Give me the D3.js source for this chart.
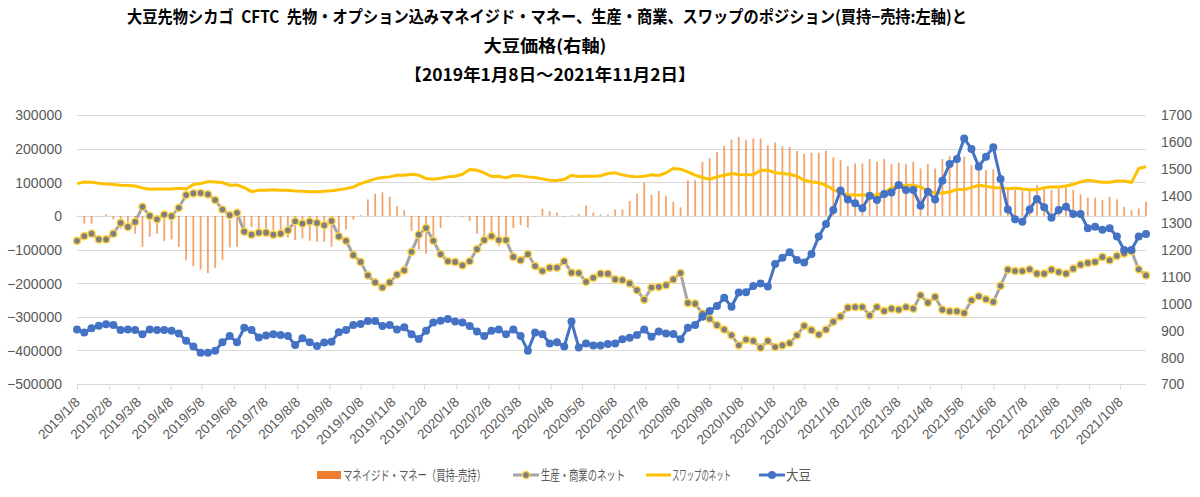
<!DOCTYPE html>
<html><head><meta charset="utf-8">
<script src="https://cdn.jsdelivr.net/npm/d3@7"></script>
<style>body{margin:0;background:#fff}svg{display:block}</style>
</head><body>
<svg id="c" width="1200" height="497"></svg>
<script>
const startDate = "2019-01-08";
const endDate = "2021-11-02";
const titleLines = [
  "大豆先物シカゴ\u2002CFTC\u2002先物・オプション込みマネイジド・マネー、生産・商業、スワップのポジション(買持−売持:左軸)と",
  "大豆価格(右軸)",
  "【2019年1月8日～2021年11月2日】"
];
const seriesNames = ["マネイジド・マネー（買持-売持）", "生産・商業のネット", "スワップのネット", "大豆"];
const leftTicks = [300000, 200000, 100000, 0, -100000, -200000, -300000, -400000, -500000];
const rightTicks = [1700, 1600, 1500, 1400, 1300, 1200, 1100, 1000, 900, 800, 700];
const tickLabels = ["2019/1/8","2019/2/8","2019/3/8","2019/4/8","2019/5/8","2019/6/8","2019/7/8","2019/8/8","2019/9/8","2019/10/8","2019/11/8","2019/12/8",
 "2020/1/8","2020/2/8","2020/3/8","2020/4/8","2020/5/8","2020/6/8","2020/7/8","2020/8/8","2020/9/8","2020/10/8","2020/11/8","2020/12/8",
 "2021/1/8","2021/2/8","2021/3/8","2021/4/8","2021/5/8","2021/6/8","2021/7/8","2021/8/8","2021/9/8","2021/10/8"];

const mmNet = [ -1000, -23000, -23000, -2000, 5000, -10000, -38000, -33000, -53000, -92000,
 -62000, -53000, -75000, -70000, -92000, -132000, -150000, -160000, -170000, -155000,
 -132000, -94000, -92000, -36000, -33000, -45000, -41000, -43000, -62000, -64000,
 -72000, -67000, -74000, -77000, -77000, -92000, -72000, -41000, -11000, 3000,
 49000, 66000, 70000, 57000, 29000, 17000, -45000, -100000, -112000, -67000,
 -36000, -3000, -1000, -3000, -15000, -53000, -67000, -72000, -90000, -72000,
 -36000, -28000, -35000, -2000, 21000, 14000, 10000, -2000, 2000, 5000,
 31000, 10000, 4000, 4000, 19000, 19000, 44000, 66000, 98000, 63000,
 74000, 60000, 42000, 25000, 106000, 106000, 161000, 171000, 190000, 208000,
 227000, 235000, 225000, 230000, 230000, 210000, 218000, 207000, 205000, 193000,
 184000, 188000, 188000, 194000, 174000, 166000, 148000, 156000, 156000, 169000,
 161000, 169000, 154000, 158000, 154000, 161000, 141000, 154000, 141000, 169000,
 177000, 158000, 176000, 151000, 161000, 136000, 139000, 97000, 82000, 77000,
 75000, 77000, 92000, 87000, 77000, 82000, 87000, 77000, 64000, 54000,
 54000, 47000, 57000, 49000, 27000, 17000, 22000, 42000 ];

const prodNet = [ -74000, -60000, -53000, -70000, -70000, -53000, -21000, -33000, -18000, 27000,
 0, -10000, 4000, -1000, 24000, 62000, 67000, 68000, 64000, 47000,
 19000, 2000, 9000, -47000, -56000, -50000, -50000, -56000, -53000, -43000,
 -16000, -23000, -17000, -21000, -28000, -15000, -61000, -74000, -117000, -137000,
 -177000, -198000, -213000, -198000, -175000, -162000, -107000, -56000, -36000, -74000,
 -114000, -135000, -137000, -147000, -135000, -99000, -72000, -60000, -72000, -72000,
 -122000, -132000, -114000, -149000, -164000, -154000, -154000, -135000, -169000, -170000,
 -196000, -184000, -172000, -172000, -189000, -191000, -201000, -221000, -249000, -213000,
 -211000, -206000, -189000, -170000, -259000, -261000, -291000, -306000, -325000, -338000,
 -355000, -385000, -368000, -372000, -392000, -372000, -390000, -385000, -378000, -355000,
 -327000, -340000, -353000, -338000, -315000, -299000, -273000, -271000, -271000, -296000,
 -271000, -283000, -276000, -279000, -271000, -276000, -236000, -258000, -241000, -279000,
 -284000, -284000, -289000, -251000, -239000, -248000, -256000, -208000, -160000, -164000,
 -164000, -159000, -172000, -172000, -160000, -167000, -172000, -157000, -145000, -140000,
 -137000, -122000, -132000, -119000, -112000, -105000, -159000, -177000 ];

const swapNet = [ 96000, 101000, 100000, 97000, 95000, 93000, 91000, 90000, 89000, 83000,
 79000, 80000, 80000, 80000, 82000, 80000, 93000, 96000, 102000, 101000,
 99000, 91000, 92000, 84000, 72000, 76000, 76000, 78000, 76000, 76000,
 74000, 73000, 72000, 72000, 73000, 75000, 78000, 81000, 86000, 96000,
 103000, 110000, 114000, 116000, 121000, 121000, 124000, 121000, 111000, 109000,
 112000, 116000, 118000, 124000, 138000, 136000, 128000, 117000, 118000, 113000,
 120000, 119000, 116000, 114000, 110000, 106000, 105000, 108000, 121000, 117000,
 118000, 118000, 119000, 126000, 128000, 122000, 118000, 116000, 118000, 122000,
 120000, 128000, 141000, 139000, 131000, 121000, 114000, 109000, 116000, 121000,
 126000, 123000, 122000, 122000, 136000, 136000, 128000, 126000, 124000, 118000,
 106000, 101000, 99000, 91000, 78000, 68000, 63000, 62000, 62000, 62000,
 63000, 68000, 84000, 89000, 91000, 91000, 86000, 74000, 68000, 68000,
 71000, 79000, 78000, 84000, 91000, 88000, 84000, 84000, 81000, 83000,
 80000, 78000, 78000, 84000, 86000, 86000, 89000, 94000, 101000, 106000,
 103000, 100000, 100000, 104000, 104000, 99000, 141000, 146000 ];

const soybean = [ 903, 891, 907, 917, 922, 919, 901, 903, 901, 885,
 903, 901, 901, 898, 888, 861, 839, 816, 816, 824,
 855, 878, 855, 909, 901, 873, 880, 885, 882, 878,
 845, 870, 855, 841, 854, 857, 892, 901, 919, 923,
 934, 934, 916, 919, 903, 911, 885, 867, 898, 929,
 935, 942, 932, 929, 916, 895, 878, 898, 903, 885,
 903, 878, 824, 891, 885, 851, 855, 839, 932, 836,
 851, 843, 843, 849, 851, 866, 872, 882, 903, 876,
 895, 888, 886, 866, 909, 919, 950, 971, 990, 1021,
 987, 1040, 1041, 1064, 1074, 1062, 1146, 1169, 1190, 1161,
 1152, 1183, 1248, 1295, 1347, 1419, 1386, 1372, 1353, 1400,
 1384, 1406, 1412, 1440, 1421, 1421, 1363, 1415, 1386, 1456,
 1518, 1536, 1613, 1574, 1508, 1545, 1580, 1462, 1349, 1312,
 1303, 1349, 1388, 1357, 1318, 1347, 1359, 1332, 1332, 1279,
 1285, 1273, 1279, 1248, 1198, 1198, 1248, 1258 ];

const parse = d3.timeParse("%Y-%m-%d");
const parseTick = d3.timeParse("%Y/%m/%d");
const t0 = parse(startDate);
const dates = mmNet.map((_, i) => d3.timeDay.offset(t0, 7 * i));

const svg = d3.select("#c");
const L = 77, R = 1146, T = 115, B = 384;
const x = d3.scaleTime().domain([parse(startDate), parse(endDate)]).range([L, R]);
const yL = d3.scaleLinear().domain([-500000, 300000]).range([B, T]);
const yR = d3.scaleLinear().domain([700, 1700]).range([B, T]);
const FONT = "'Liberation Sans', Arial, sans-serif";
const JFONT = "'Noto Sans CJK JP', sans-serif";

// title
const titleY = [23, 52, 81], titleX = [547, 545, 550], titleW = [840, 123, 291];
titleLines.forEach((t, i) => {
  svg.append("text").attr("x", titleX[i]).attr("y", titleY[i])
    .attr("text-anchor", "middle").attr("font-family", JFONT).attr("font-weight", "bold")
    .attr("font-size", 16.5).attr("fill", "#000")
    .attr("textLength", titleW[i]).attr("lengthAdjust", "spacingAndGlyphs").text(t);
});

// gridlines
svg.append("g").selectAll("line").data(leftTicks).join("line")
  .attr("x1", L).attr("x2", R).attr("y1", d => Math.round(yL(d)) + 0.5).attr("y2", d => Math.round(yL(d)) + 0.5)
  .attr("stroke", "#D9D9D9").attr("stroke-width", 1);

// left axis
const axL = svg.append("g").attr("transform", `translate(${L - 12},0)`)
  .call(d3.axisLeft(yL).tickValues(leftTicks).tickSize(0).tickFormat(d3.format("d")));
axL.select(".domain").remove();
axL.selectAll("text").attr("font-family", FONT).attr("font-size", 14).attr("fill", "#595959").attr("dy", "0.35em");

// right axis
const axR = svg.append("g").attr("transform", `translate(${R + 12},0)`)
  .call(d3.axisRight(yR).tickValues(rightTicks).tickSize(0).tickFormat(d3.format("d")));
axR.select(".domain").remove();
axR.selectAll("text").attr("font-family", FONT).attr("font-size", 14).attr("fill", "#595959").attr("dy", "0.35em");

// bottom axis
const tickDates = tickLabels.map(parseTick);
const axB = svg.append("g").attr("transform", `translate(0,${Math.round(B) + 0.5})`)
  .call(d3.axisBottom(x).tickValues(tickDates).tickSize(5).tickFormat((d, i) => tickLabels[i]));
axB.select(".domain").remove();
axB.selectAll(".tick line").attr("stroke", "#D9D9D9");
axB.selectAll(".tick text")
  .attr("font-family", FONT).attr("font-size", 13.5).attr("fill", "#595959")
  .attr("text-anchor", "end").attr("x", 0).attr("y", 0).attr("dy", "0.35em")
  .attr("transform", "translate(0,15) rotate(-45)");

// bars
const bw = 1.8;
svg.append("g").selectAll("rect").data(mmNet).join("rect")
  .attr("x", (d, i) => x(dates[i]) - bw / 2)
  .attr("y", d => Math.min(yL(d), yL(0)))
  .attr("width", bw)
  .attr("height", d => Math.abs(yL(d) - yL(0)))
  .attr("fill", "#ED7D31").attr("opacity", 0.7);

// producer line
const lineL = d3.line().x((d, i) => x(dates[i])).y(d => yL(d));
svg.append("path").datum(prodNet).attr("d", lineL).attr("fill", "none")
  .attr("stroke", "#A5A5A5").attr("stroke-width", 3).attr("stroke-linejoin", "round");
svg.append("g").selectAll("circle").data(prodNet).join("circle")
  .attr("cx", (d, i) => x(dates[i])).attr("cy", d => yL(d)).attr("r", 3.6)
  .attr("fill", "#7F7F7F").attr("stroke", "#FFD447").attr("stroke-width", 1.5);

// swap line
svg.append("path").datum(swapNet).attr("d", lineL).attr("fill", "none")
  .attr("stroke", "#FFC000").attr("stroke-width", 3).attr("stroke-linejoin", "round");

// soybean line
const lineR = d3.line().x((d, i) => x(dates[i])).y(d => yR(d));
svg.append("path").datum(soybean).attr("d", lineR).attr("fill", "none")
  .attr("stroke", "#4472C4").attr("stroke-width", 3).attr("stroke-linejoin", "round");
svg.append("g").selectAll("circle").data(soybean).join("circle")
  .attr("cx", (d, i) => x(dates[i])).attr("cy", d => yR(d)).attr("r", 4)
  .attr("fill", "#4472C4");

// legend
const ly = 475;
const lg = svg.append("g");
lg.append("rect").attr("x", 317).attr("y", ly - 4).attr("width", 24).attr("height", 8).attr("fill", "#ED7D31");
lg.append("line").attr("x1", 513).attr("x2", 539).attr("y1", ly).attr("y2", ly).attr("stroke", "#A5A5A5").attr("stroke-width", 3);
lg.append("circle").attr("cx", 526).attr("cy", ly).attr("r", 3.6).attr("fill", "#7F7F7F").attr("stroke", "#FFD447").attr("stroke-width", 1.5);
lg.append("line").attr("x1", 646).attr("x2", 671).attr("y1", ly).attr("y2", ly).attr("stroke", "#FFC000").attr("stroke-width", 3);
lg.append("line").attr("x1", 759).attr("x2", 785).attr("y1", ly).attr("y2", ly).attr("stroke", "#4472C4").attr("stroke-width", 3);
lg.append("circle").attr("cx", 772).attr("cy", ly).attr("r", 4).attr("fill", "#4472C4");
const lx = [343, 541, 672, 786], lw = [143, 84, 59, 25];
seriesNames.forEach((n, i) => {
  lg.append("text").attr("x", lx[i]).attr("y", ly).attr("dy", "0.35em")
    .attr("font-family", JFONT).attr("font-size", 13.5).attr("fill", "#595959")
    .attr("textLength", lw[i]).attr("lengthAdjust", "spacingAndGlyphs").text(n);
});
</script>
</body></html>
